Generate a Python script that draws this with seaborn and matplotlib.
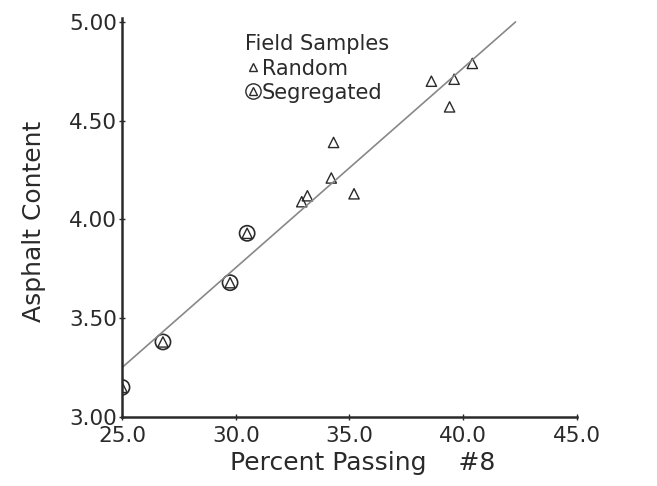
import seaborn as sns
import matplotlib.pyplot as plt
import pandas as pd
from matplotlib.lines import Line2D
from matplotlib.legend_handler import HandlerTuple

# valores
random_x = [32.9, 33.15, 34.2, 34.3, 35.2, 38.6, 39.4, 39.6, 40.4]
random_y = [4.09, 4.12, 4.21, 4.39, 4.13, 4.70, 4.57, 4.71, 4.79]
segregated_x = [25.0, 26.8, 29.75, 30.5]
segregated_y = [3.15, 3.38, 3.68, 3.93]
fit_x = [25.0, 42.3]
fit_y = [3.25, 5.00]
x_ticks = [25.0, 30.0, 35.0, 40.0, 45.0]
y_ticks = [3.00, 3.50, 4.00, 4.50, 5.00]

sns.set_style('ticks')
plt.rcParams['font.family'] = ['DejaVu Sans']

fig = plt.figure(figsize=(6.57, 4.86), dpi=100)
ax = fig.add_axes([0.1857, 0.142, 0.6925, 0.821])

cor = '#2a2a2a'
sns.lineplot(x=fit_x, y=fit_y, ax=ax, color='#888888', linewidth=1.2)

df_rand = pd.DataFrame({'x': random_x, 'y': random_y})
df_seg = pd.DataFrame({'x': segregated_x, 'y': segregated_y})
sns.scatterplot(data=df_rand, x='x', y='y', ax=ax, marker='^', s=55,
                facecolor='none', edgecolor=cor, linewidth=1)
sns.scatterplot(data=df_seg, x='x', y='y', ax=ax, marker='^', s=55,
                facecolor='none', edgecolor=cor, linewidth=1)
sns.scatterplot(data=df_seg, x='x', y='y', ax=ax, marker='o', s=120,
                facecolor='none', edgecolor=cor, linewidth=1.2)

ax.set_xlim(25.0, 45.0)
ax.set_ylim(3.0, 5.02)
ax.set_xticks(x_ticks)
ax.set_yticks(y_ticks)
ax.set_xticklabels([f'{t:.1f}' for t in x_ticks])
ax.set_yticklabels([f'{t:.2f}' for t in y_ticks])
ax.tick_params(direction='inout', length=5, width=1, labelsize=15.5,
               colors=cor, pad=1)
ax.tick_params(axis='x', pad=4)
sns.despine(ax=ax)
for s in ['left', 'bottom']:
    ax.spines[s].set_linewidth(1.8)
    ax.spines[s].set_color(cor)

ax.set_xlabel('Percent Passing    #8', fontsize=18, color=cor)
ax.set_ylabel('Asphalt Content', fontsize=18, color=cor)
ax.xaxis.set_label_coords(0.53, -0.085)
ax.yaxis.set_label_coords(-0.167, 0.49)

h_rand = Line2D([], [], marker='^', linestyle='none', markersize=6,
                markerfacecolor='none', markeredgecolor=cor)
h_tri = Line2D([], [], marker='^', linestyle='none', markersize=6,
               markerfacecolor='none', markeredgecolor=cor)
h_circ = Line2D([], [], marker='o', linestyle='none', markersize=11,
                markerfacecolor='none', markeredgecolor=cor)
leg = ax.legend([h_rand, (h_circ, h_tri)], ['Random', 'Segregated'],
                handler_map={tuple: HandlerTuple(ndivide=1)},
                title='Field Samples', loc='upper left',
                bbox_to_anchor=(0.248, 0.985), frameon=False, fontsize=15,
                title_fontsize=15, handlelength=0.7, handletextpad=0.1,
                labelspacing=0.2, borderpad=0)
leg._legend_box.align = 'left'
for t in leg.get_texts():
    t.set_color(cor)
leg.get_title().set_color(cor)

plt.savefig('out.png', dpi=100)
